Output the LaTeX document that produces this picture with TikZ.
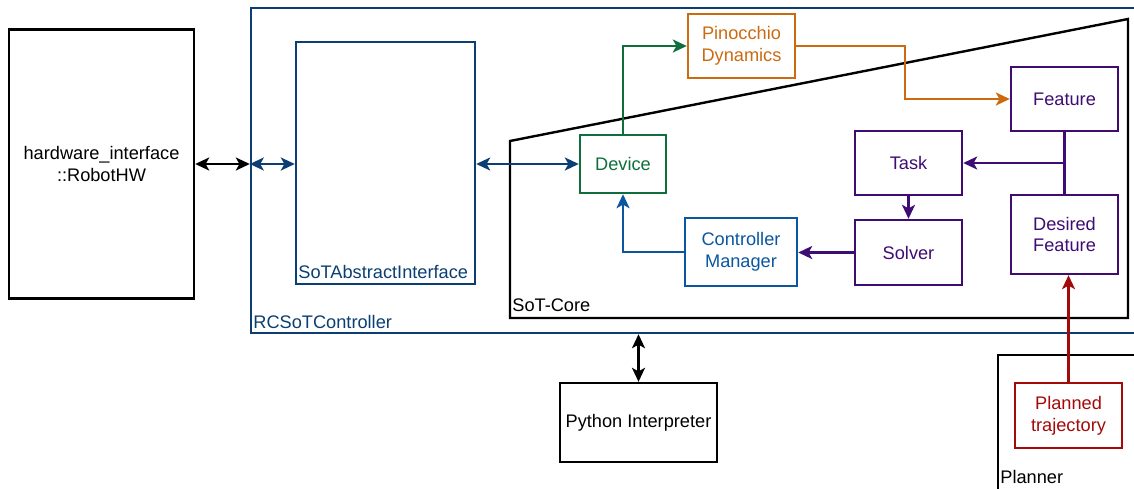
\documentclass[tikz,border=0pt]{standalone}
\usepackage{fontspec}
\setmainfont{Liberation Sans}
\usetikzlibrary{arrows.meta}

\definecolor{rcblue}{HTML}{0B3F73}
\definecolor{devgreen}{HTML}{0E6E3C}
\definecolor{pinorange}{HTML}{CC6A10}
\definecolor{sotpurple}{HTML}{3E0C73}
\definecolor{mgrblue}{HTML}{0A56A0}
\definecolor{trajred}{HTML}{A30A0A}

\begin{document}
\begin{tikzpicture}[x=0.5pt, y=-0.5pt, >={Stealth[length=7pt, width=6.5pt, inset=1.8pt]},
	box/.style={draw, line width=1.2pt, inner sep=0pt, align=center, font=\fontsize{9.1}{10.8}\selectfont},
	frame/.style={draw, line width=1.2pt, inner sep=0pt},
	tag/.style={anchor=base west, inner sep=0pt, font=\fontsize{9.1}{10.8}\selectfont},
	link/.style={line width=1.2pt}]
	\useasboundingbox (0, 0) rectangle (1134, 488);
	\clip (0, 0) rectangle (1134, 488);

	% outer frames
	\node[frame, rcblue, minimum width=447pt, minimum height=162.5pt] (rcsot) at (698, 170.5) {};
	\node[tag, rcblue] at (253, 328) {RCSoTController};
	\node[frame, minimum width=73.5pt, minimum height=70pt] (planner) at (1071.5, 425) {};
	\node[tag] at (1000, 483) {Planner};

	% SoT-Core
	\coordinate (cbl) at (510, 318);
	\coordinate (ctl) at (510, 141);
	\coordinate (ctr) at (1128, 19);
	\coordinate (cbr) at (1128, 318);
	\draw[line width=1.2pt] (cbl) -- (ctl) -- (ctr) -- (cbr) -- cycle;
	\node[tag] at (512, 311) {SoT-Core};

	% blocks
	\node[box, minimum width=92.5pt, minimum height=134.5pt] (hw) at (101.5, 164) {hardware\_interface\\::RobotHW};
	\node[box, rcblue, minimum width=89.5pt, minimum height=121pt] (sotai) at (385.5, 163) {};
	\node[tag, rcblue] at (298, 278) {SoTAbstractInterface};

	\node[box, devgreen, minimum width=43pt, minimum height=29pt] (dev) at (623, 164) {Device};
	\node[box, pinorange, minimum width=53.5pt, minimum height=32pt] (pin) at (741.5, 46) {Pinocchio\\Dynamics};
	\node[box, sotpurple, minimum width=53.5pt, minimum height=32pt] (feat) at (1064.5, 99) {Feature};
	\node[box, sotpurple, minimum width=53.5pt, minimum height=32pt] (task) at (908.5, 163) {Task};
	\node[box, sotpurple, minimum width=53.5pt, minimum height=39.5pt] (des) at (1064.5, 234.5) {Desired\\Feature};
	\node[box, sotpurple, minimum width=53.5pt, minimum height=32.5pt] (solver) at (908.5, 252.5) {Solver};
	\node[box, mgrblue, minimum width=56pt, minimum height=34pt] (mgr) at (741, 252) {Controller\\Manager};
	\node[box, minimum width=78.5pt, minimum height=39.5pt] (py) at (638.5, 422.5) {Python Interpreter};
	\node[box, trajred, minimum width=53.5pt, minimum height=32.5pt] (traj) at (1068.5, 415.5) {Planned\\trajectory};

	% connectors
	\draw[link, <->] (hw.east) -- (hw.east -| rcsot.west);
	\draw[link, <->, rcblue] (hw.east -| rcsot.west) -- (hw.east -| sotai.west);
	\draw[link, <->, rcblue] (sotai.east |- dev.west) -- (dev.west);
	\draw[link, ->, devgreen] (dev.north) |- (pin.west);
	\draw[link, ->, pinorange] (pin.east) -- ++(109, 0) |- (feat.west);
	\draw[link, sotpurple] (feat.south) -- (des.north);
	\draw[link, ->, sotpurple] (feat.south |- task.east) -- (task.east);
	\draw[link, ->, sotpurple] (task.south) -- (solver.north);
	\draw[link, ->, sotpurple] (solver.west) -- (solver.west -| mgr.east);
	\draw[link, ->, mgrblue] (mgr.west) -| (dev.south);
	\draw[link, <->] (rcsot.south -| py.north) -- (py.north);
	\draw[link, ->, trajred] (traj.north) -- (traj.north |- des.south);
\end{tikzpicture}
\end{document}
